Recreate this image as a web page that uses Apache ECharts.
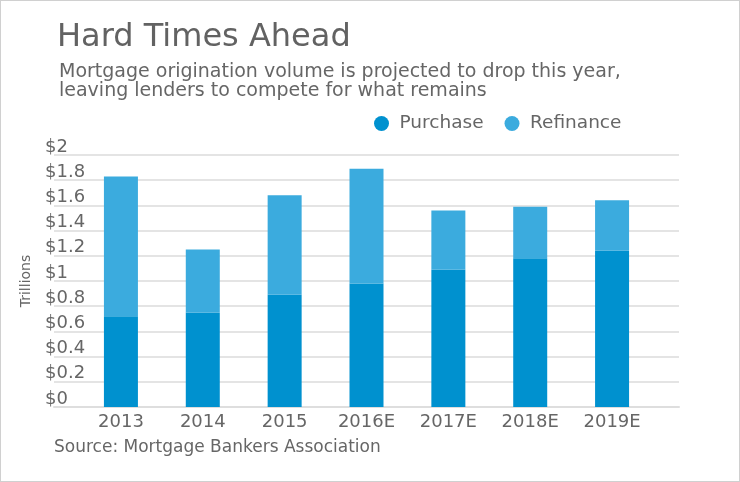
<!DOCTYPE html>
<html>
<head>
<meta charset="utf-8">
<script src="https://cdn.jsdelivr.net/npm/echarts@6/dist/echarts.min.js"></script>
<style>
html,body{margin:0;padding:0;background:#fff;}
#c{width:740px;height:482px;box-sizing:border-box;border:1px solid #d0d0d0;}
</style>
</head>
<body>
<div id="c"></div>
<script>
var categories = ['2013', '2014', '2015', '2016E', '2017E', '2018E', '2019E'];
var purchase = [0.72, 0.75, 0.89, 0.98, 1.09, 1.18, 1.24];
var refinance = [1.11, 0.50, 0.79, 0.91, 0.47, 0.41, 0.40];
var yTicks = ['$0', '$0.2', '$0.4', '$0.6', '$0.8', '$1', '$1.2', '$1.4', '$1.6', '$1.8', '$2'];

var FONT = '"DejaVu Sans", Verdana, sans-serif';
var GRAY = '#666666';

var chart = echarts.init(document.getElementById('c'), null, {renderer: 'canvas'});
chart.setOption({
  animation: false,
  textStyle: {fontFamily: FONT},
  title: [
    {text: 'Hard Times Ahead', left: 51, top: 16,
     textStyle: {fontFamily: FONT, fontSize: 32, fontWeight: 'normal', color: '#626262'}},
    {text: 'Mortgage origination volume is projected to drop this year,\nleaving lenders to compete for what remains',
     left: 53, top: 57,
     textStyle: {fontFamily: FONT, fontSize: 19, fontWeight: 'normal', color: GRAY, lineHeight: 18.5}}
  ],
  legend: {
    data: ['Purchase', 'Refinance'],
    left: 368, top: 108,
    icon: 'circle', itemWidth: 26, itemHeight: 15, itemGap: 21,
    textStyle: {fontFamily: FONT, fontSize: 18.5, color: GRAY}
  },
  grid: [
    {left: 53, right: 60, top: 154, bottom: 74},
    {left: 79, right: 86, top: 154, bottom: 74}
  ],
  xAxis: [
    {gridIndex: 0, type: 'category', data: categories,
     axisLine: {show: true, lineStyle: {color: '#dedede', width: 2}},
     axisTick: {show: false}, axisLabel: {show: false}, splitLine: {show: false}},
    {gridIndex: 1, type: 'category', data: categories,
     axisLine: {show: false}, axisTick: {show: false},
     axisLabel: {fontFamily: FONT, fontSize: 18, color: GRAY, margin: 6}}
  ],
  yAxis: [
    {gridIndex: 0, type: 'value', min: 0, max: 2, interval: 0.2,
     name: 'Trillions', nameLocation: 'middle', nameGap: 21, nameRotate: 90,
     nameTextStyle: {fontFamily: FONT, fontSize: 14, color: GRAY},
     axisLine: {show: false}, axisTick: {show: false},
     axisLabel: {
       fontFamily: FONT, fontSize: 18, color: GRAY, align: 'left', margin: 9,
       verticalAlign: 'bottom', lineHeight: 16,
       formatter: function (v) { return yTicks[Math.round(v / 0.2)]; }
     },
     splitLine: {show: true, lineStyle: {color: '#e4e4e4', width: 2}}},
    {gridIndex: 1, type: 'value', min: 0, max: 2, interval: 0.2, show: false,
     splitLine: {show: false}}
  ],
  series: [
    {name: 'Purchase', type: 'bar', stack: 'total', xAxisIndex: 1, yAxisIndex: 1,
     barWidth: 34, data: purchase, itemStyle: {color: '#0091CF'}},
    {name: 'Refinance', type: 'bar', stack: 'total', xAxisIndex: 1, yAxisIndex: 1,
     barWidth: 34, data: refinance, itemStyle: {color: '#3BABDE'}}
  ],
  graphic: [
    {type: 'text', left: 53, top: 438,
     style: {text: 'Source: Mortgage Bankers Association', fontFamily: FONT, fontSize: 17, fill: GRAY}}
  ]
});
</script>
</body>
</html>
